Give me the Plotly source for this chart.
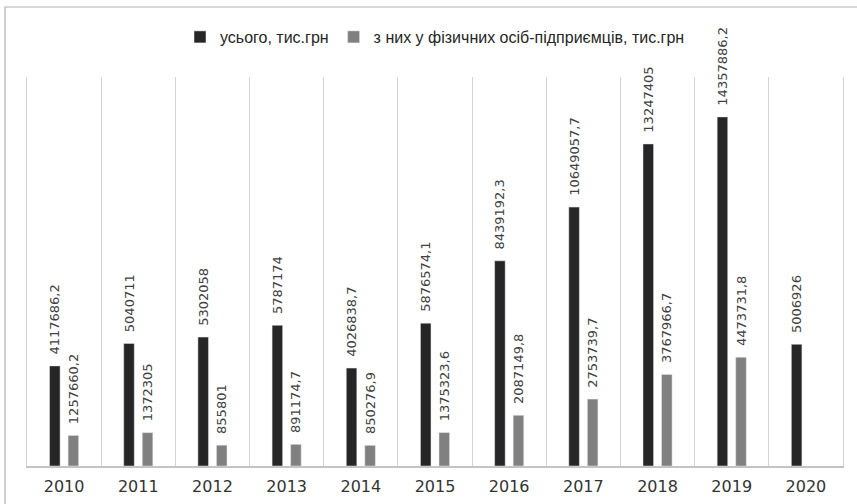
import plotly.graph_objects as go

years = ["2010", "2011", "2012", "2013", "2014", "2015", "2016", "2017", "2018", "2019", "2020"]
total = [4117686.2, 5040711, 5302058, 5787174, 4026838.7, 5876574.1, 8439192.3,
         10649057.7, 13247405, 14357886.2, 5006926]
fop = [1257660.2, 1372305, 855801, 891174.7, 850276.9, 1375323.6, 2087149.8,
       2753739.7, 3767966.7, 4473731.8, None]
name_total = "усього, тис.грн"
name_fop = "з них у фізичних осіб-підприємців, тис.грн"


def fmt(v):
    if v is None:
        return ""
    s = ("%.1f" % v).rstrip("0").rstrip(".")
    return s.replace(".", ",")


lbl_total = [fmt(v) for v in total]
lbl_fop = [fmt(v) for v in fop]

W, H = 857, 504
ml, mr, mt, mb = 27, 14, 77, 38
pw, ph = W - ml - mr, H - mt - mb

label_font = dict(family="DejaVu Sans", size=13, color="#404040")

fig = go.Figure()
fig.add_trace(go.Bar(
    x=years, y=total, name=name_total, marker_color="#262626",
    text=lbl_total, texttemplate="\u00a0\u00a0%{text}", textposition="outside",
    textangle=-90, constraintext="none", cliponaxis=False,
    textfont=label_font, hoverinfo="x+y",
))
fig.add_trace(go.Bar(
    x=years, y=fop, name=name_fop, marker_color="#808080",
    text=lbl_fop, texttemplate="\u00a0\u00a0%{text}", textposition="outside",
    textangle=-90, constraintext="none", cliponaxis=False,
    textfont=label_font, hoverinfo="x+y",
))

fig.update_layout(
    width=W, height=H,
    margin=dict(l=ml, r=mr, t=mt, b=mb),
    paper_bgcolor="white", plot_bgcolor="white",
    barmode="group", bargap=0.5, bargroupgap=0.43,
    showlegend=True,
    legend=dict(orientation="h", x=0.5, xanchor="center",
                y=1 + (mt - 37) / ph, yanchor="middle",
                font=dict(family="Liberation Sans", size=16, color="#262626"),
                bgcolor="rgba(0,0,0,0)", itemclick=False),
    xaxis=dict(type="category", tickson="boundaries", showgrid=True,
               gridcolor="#d4d4d4", gridwidth=1, automargin=False,
               showline=True, linecolor="#c4c4c4", linewidth=1.5,
               ticks="", tickfont=dict(family="DejaVu Sans", size=16, color="#333333"),
               ticklabelstandoff=5, zeroline=False),
    yaxis=dict(range=[0, 16000000], showgrid=False, showticklabels=False,
               zeroline=False, showline=True, mirror=True, linecolor="#d4d4d4",
               linewidth=1, ticks="", automargin=False),
    shapes=[dict(type="rect", xref="paper", yref="paper",
                 x0=(5 - ml) / pw, x1=(W + 5 - ml) / pw,
                 y0=-(mb + 5) / ph, y1=1 + (mt - 7) / ph,
                 line=dict(color="#b0b0b0", width=1.2), layer="above")],
)

fig.write_html("out.html", config={"displayModeBar": False},
               post_script="document.body.style.margin='0';")
